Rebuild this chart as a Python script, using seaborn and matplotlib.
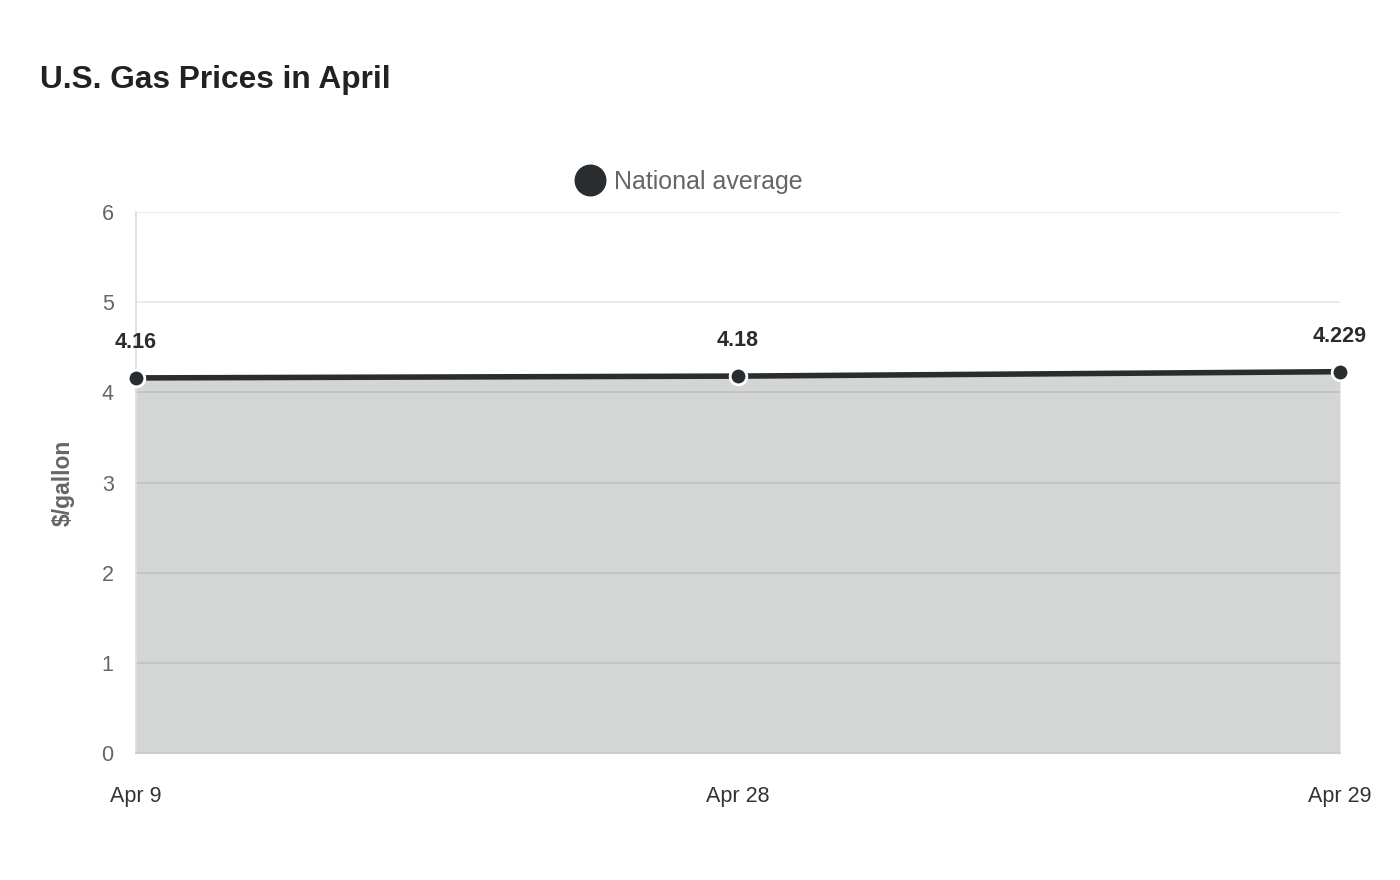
import matplotlib
matplotlib.use("Agg")
import matplotlib.pyplot as plt
from matplotlib.lines import Line2D
import pandas as pd
import seaborn as sns

dates = ["Apr 9", "Apr 28", "Apr 29"]
prices = [4.16, 4.18, 4.229]
price_labels = ["4.16", "4.18", "4.229"]
series_name = "National average"

LINE = "#2a2d2f"
GRID = "#e6e6e6"

sns.set_theme(style="white")
plt.rcParams["font.family"] = ["Liberation Sans", "DejaVu Sans"]

df = pd.DataFrame({"pos": range(len(dates)), "price": prices, "series": series_name})

fig = plt.figure(figsize=(14, 8.8), dpi=100)
ax = fig.add_axes([0.0971, 0.1443, 0.86, 0.6148])

# grid under a semi-transparent area so lines show through darker
ax.grid(axis="y", color=GRID, linewidth=1.2, zorder=0)
ax.set_axisbelow(True)
ax.fill_between(df["pos"], 0, df["price"], color=LINE, alpha=0.2, zorder=1, linewidth=0)
sns.lineplot(data=df, x="pos", y="price", ax=ax, color=LINE, linewidth=4,
             marker="o", markersize=12, markeredgecolor="white", markeredgewidth=2,
             legend=False, zorder=4, clip_on=False)

for x, y, lab in zip(df["pos"], df["price"], price_labels):
    ax.annotate(lab, (x, y), xytext=(0, 18), textcoords="offset points",
                ha="center", va="bottom", fontsize=15.5, fontweight="bold", color="#2a2d2f",
                annotation_clip=False)

ax.set_xlim(0, len(dates) - 1)
ax.set_ylim(0, 6)
ax.set_yticks(range(0, 7))
ax.set_xticks(df["pos"])
ax.set_xticklabels(dates)
for side in ["top", "right"]:
    ax.spines[side].set_visible(False)
ax.spines["left"].set_color("#dddddd")
ax.spines["bottom"].set_color("#cccccc")
ax.tick_params(axis="y", length=14, color=GRID, labelsize=15.5, labelcolor="#666666", pad=2)
ax.tick_params(axis="x", length=0, labelsize=15.5, labelcolor="#333333", pad=24)
ax.set_xlabel("")
ax.set_ylabel("$/gallon", fontsize=16.5, fontweight="bold", color="#666666", labelpad=19)

fig.text(40 / 1400, 1 - 80 / 880, "U.S. Gas Prices in April", fontsize=22.8,
         fontweight="bold", color="#222222", va="center", ha="left")

fig.add_artist(Line2D([590 / 1400], [1 - 180 / 880], transform=fig.transFigure,
                      marker="o", markersize=22, color=LINE, linestyle="none"))
fig.text(614 / 1400, 1 - 182 / 880, series_name, fontsize=18, color="#666666",
         va="center", ha="left")

fig.savefig("out.png", dpi=100)
